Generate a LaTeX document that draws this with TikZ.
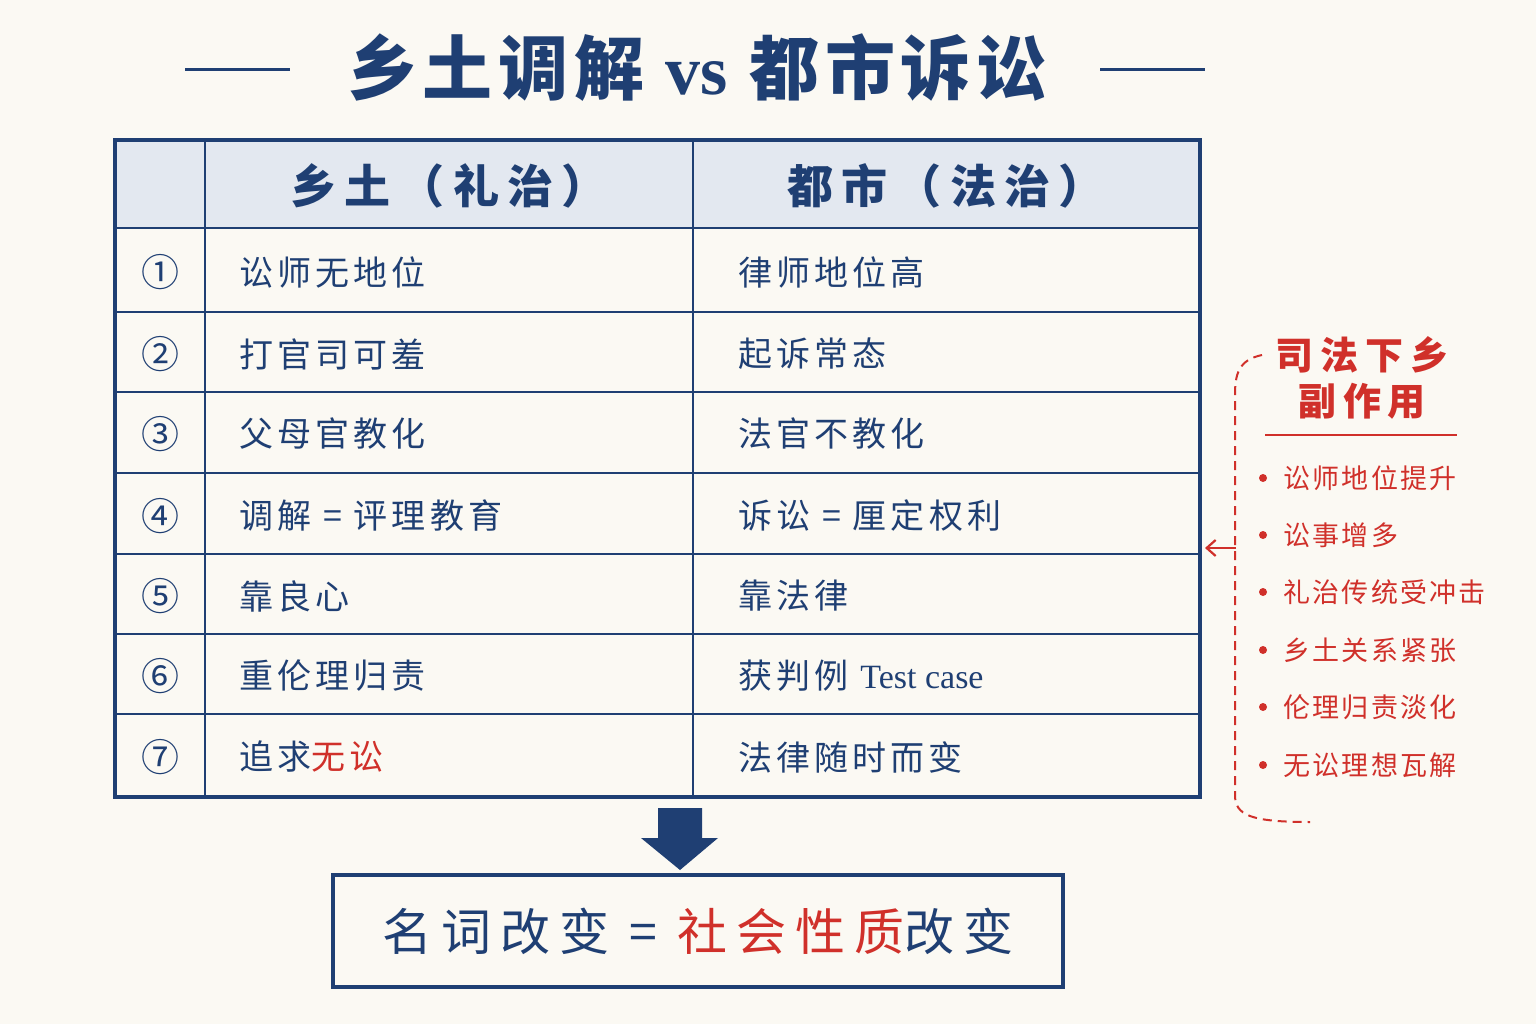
\documentclass[tikz,border=0pt]{standalone}
\usepackage{fontspec}
\setmainfont{Noto Sans CJK SC}
\newfontfamily\spcjk{Noto Sans CJK SC}[LetterSpace=12]
\newfontfamily\smcjk{Noto Sans CJK SC}[LetterSpace=8]
\newfontfamily\spbcjk{Noto Sans CJK SC}[LetterSpace=18]
\newfontfamily\ttlcjk{Noto Sans CJK SC}[LetterSpace=8]
\newfontfamily\lat{Liberation Serif}
\usetikzlibrary{arrows.meta}
\definecolor{navy}{HTML}{1F3F73}
\definecolor{hdr}{HTML}{E3E8F0}
\definecolor{rd}{HTML}{D0302A}
\definecolor{bg}{HTML}{FBF9F3}
\begin{document}
\begin{tikzpicture}[x=1pt,y=-1pt,
  cell/.style={anchor=west,text=navy,font=\spcjk\fontsize{34}{34}\selectfont},
  num/.style={text=navy,font=\fontsize{38}{38}\selectfont},
  side/.style={anchor=west,text=rd,font=\smcjk\fontsize{27}{27}\selectfont},
  tl/.style={line width=3.5pt,draw=navy}]
\fill[bg] (0,0) rectangle (1536,1024);
\useasboundingbox (0,0) rectangle (1536,1024);
% title
\node[text=navy,font=\ttlcjk\fontsize{70}{70}\selectfont\bfseries] (title) at (697,68) {乡土调解 {\lat vs} 都市诉讼};
\draw[navy,line width=3pt] (185,70) -- (290,70) (1100,70) -- (1205,70);
% table
\fill[hdr] (115,140) rectangle (1200,228);
\foreach \y in {228,312,392,473,554,634,714} \draw[navy,line width=2.5pt] (115,\y) -- (1200,\y);
\draw[navy,line width=2.5pt] (205,140) -- (205,797) (693,140) -- (693,797);
\draw[tl] (115,140) rectangle (1200,797);
\node[text=navy,font=\spbcjk\fontsize{46}{46}\selectfont\bfseries] (h1) at (449,186) {乡土（礼治）};
\node[text=navy,font=\spbcjk\fontsize{46}{46}\selectfont\bfseries] (h2) at (946,186) {都市（法治）};
\foreach \n/\y/\a/\b in {①/272/讼师无地位/律师地位高,②/354/打官司可羞/起诉常态,③/434/父母官教化/法官不教化,④/516/调解 = 评理教育/诉讼 = 厘定权利,⑤/596/靠良心/靠法律,⑥/676/重伦理归责/{获判例 {\lat Test case}}}{
  \node[num] at (160,\y) {\n};
  \node[cell] at (236,\y) {\a};
  \node[cell] at (735,\y) {\b};
}
\node[num] (n7) at (160,757) {⑦};
\node[cell] (a7) at (236,757) {追求\textcolor{rd}{无讼}};
\node[cell] (b7) at (735,757) {法律随时而变};
% arrow
\fill[navy] (658,808) -- (702,808) -- (702,838) -- (718,838) -- (680,870) -- (641,838) -- (658,838) -- cycle;
\coordinate (dn) at (680,840);
% bottom box
\draw[tl] (333,875) rectangle (1063,987);
\node[text=navy,font=\spbcjk\fontsize{50}{50}\selectfont] (res) at (698,931) {名词改变 = \textcolor{rd}{社会性质}改变};
% side
\node[text=rd,font=\spbcjk\fontsize{38}{46}\selectfont\bfseries,align=center] (st) at (1362,378) {司法下乡\\副作用};
\draw[rd,line width=2pt] (1265,435) -- (1457,435);
\foreach \t/\y in {讼师地位提升/478,讼事增多/535,礼治传统受冲击/592,乡土关系紧张/650,伦理归责淡化/707,无讼理想瓦解/765}{
  \fill[rd] (1263,\y) circle (4);
  \node[side] at (1280,\y) {\t};
}
\draw[rd,line width=2pt,dash pattern=on 9pt off 6pt] (1262,355) .. controls (1238,360) and (1235,375) .. (1235,395) -- (1235,795) .. controls (1235,815) and (1250,822) .. (1310,822);
\coordinate (ae) at (1205,548);
\draw[rd,line width=2.2pt,-{Straight Barb[length=9pt,width=16pt]}] (1236,548) -- (ae);
\end{tikzpicture}
\end{document}
